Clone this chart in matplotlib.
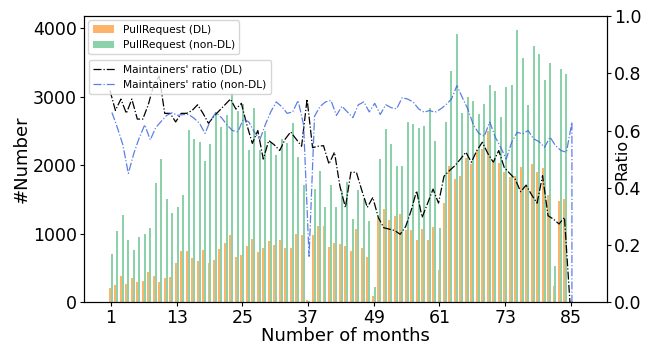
import numpy as np
import matplotlib
matplotlib.use("Agg")
import matplotlib.pyplot as plt

# monthly pull requests and maintainers' ratio
months = np.arange(1, 86)

pr_dl = [210, 254, 381, 266, 351, 298, 307, 439, 383, 293,
         345, 366, 571, 747, 747, 649, 600, 761, 571, 615,
         781, 864, 978, 664, 688, 822, 922, 735, 795, 893,
         839, 908, 793, 793, 1000, 981, 29, 981, 1117, 1117,
         805, 864, 849, 820, 747, 1069, 791, 659, 88, 1230,
         1362, 1205, 1259, 1285, 1056, 1056, 908, 1066, 908, 1098,
         468, 1450, 1993, 1800, 1847, 2110, 2018, 2225, 2240, 2500,
         2030, 2028, 1896, 1822, 1848, 1978, 1703, 2020, 1900, 1962,
         1566, 234, 1479, 1508, 20]

pr_nondl = [708, 1040, 1274, 913, 766, 952, 993, 1083, 1735, 2093,
            1510, 1305, 1393, 1571, 2518, 2390, 2345, 2064, 2315, 2777,
            2560, 2740, 3050, 2790, 2900, 2225, 2830, 2230, 2500, 2340,
            2150, 2380, 2320, 2620, 2128, 1713, 20, 1654, 1918, 1395,
            1713, 1395, 1625, 1762, 1215, 1640, 1500, 1186, 220, 2094,
            2535, 2313, 1993, 1993, 2635, 2608, 2547, 2577, 2837, 2357,
            1083, 2635, 3382, 3924, 2767, 3001, 2945, 2752, 2899, 3177,
            3089, 2708, 3147, 3177, 3982, 3572, 2884, 3748, 3631, 3250,
            3499, 527, 3411, 3338, 15]

ratio_dl = [0.74, 0.67, 0.71, 0.66, 0.71, 0.64, 0.64, 0.69, 0.76, 0.79,
            0.66, 0.66, 0.63, 0.66, 0.66, 0.67, 0.69, 0.66, 0.625, 0.65,
            0.67, 0.69, 0.71, 0.675, 0.695, 0.62, 0.555, 0.60, 0.50, 0.565,
            0.55, 0.53, 0.57, 0.595, 0.57, 0.545, 0.71, 0.54, 0.545, 0.547,
            0.483, 0.524, 0.405, 0.331, 0.454, 0.454, 0.39, 0.331, 0.366, 0.296,
            0.26, 0.255, 0.25, 0.237, 0.264, 0.32, 0.389, 0.296, 0.345, 0.395,
            0.346, 0.44, 0.46, 0.477, 0.50, 0.524, 0.489, 0.53, 0.559, 0.52,
            0.489, 0.53, 0.471, 0.45, 0.43, 0.386, 0.409, 0.375, 0.346, 0.442,
            0.302, 0.29, 0.273, 0.296, 0.0]

ratio_nondl = [0.663, 0.61, 0.55, 0.45, 0.52, 0.575, 0.62, 0.567, 0.61, 0.632,
               0.653, 0.662, 0.653, 0.656, 0.656, 0.643, 0.625, 0.59, 0.635, 0.663,
               0.645, 0.62, 0.60, 0.595, 0.64, 0.63, 0.595, 0.567, 0.62, 0.665,
               0.70, 0.684, 0.66, 0.665, 0.705, 0.62, 0.16, 0.65, 0.684, 0.70,
               0.705, 0.653, 0.685, 0.665, 0.645, 0.69, 0.70, 0.665, 0.695, 0.656,
               0.69, 0.68, 0.676, 0.715, 0.71, 0.70, 0.676, 0.664, 0.67, 0.664,
               0.675, 0.69, 0.71, 0.757, 0.715, 0.675, 0.62, 0.59, 0.58, 0.63,
               0.577, 0.541, 0.50, 0.559, 0.594, 0.588, 0.60, 0.571, 0.561, 0.541,
               0.577, 0.547, 0.53, 0.524, 0.629]

xticks = [1, 13, 25, 37, 49, 61, 73, 85]

c_dl = '#fdb46a'
c_nondl = '#8bd1aa'
w = 0.36

fig = plt.figure(figsize=(6.57, 3.44), dpi=100)
ax = fig.add_axes([0.128, 0.122, 0.796, 0.831])

ax.bar(months - w / 2, pr_dl, width=w, color=c_dl, label='PullRequest (DL)')
ax.bar(months + w / 2, pr_nondl, width=w, color=c_nondl, label='PullRequest (non-DL)')
ax.set_xlim(-3.9, 91.6)
ax.set_ylim(0, 4180)
ax.set_xticks(xticks)
ax.set_yticks([0, 1000, 2000, 3000, 4000])
ax.tick_params(labelsize=12.5, length=3, pad=2)
ax.set_xlabel('Number of months', fontsize=13, labelpad=0)
ax.set_ylabel('#Number', fontsize=13, labelpad=2)
ax.legend(loc='upper left', fontsize=7.7, borderaxespad=0.4)

ax2 = ax.twinx()
ax2.plot(months - w / 2, ratio_dl, color='black', linestyle='-.', linewidth=0.9,
         label="Maintainers' ratio (DL)")
# the non-DL series closes with a drop back to zero after the last month
ax2.plot(np.append(months + w / 2, months[-1] + w / 2), np.append(ratio_nondl, 0.0),
         color='royalblue', linestyle='-.', linewidth=0.9, alpha=0.85,
         label="Maintainers' ratio (non-DL)")
ax2.set_ylim(0, 1.0)
ax2.set_yticks([0.0, 0.2, 0.4, 0.6, 0.8, 1.0])
ax2.tick_params(labelsize=12.5, length=3, pad=2)
# label sits in the gap between the 0.4 and 0.6 tick labels
ax2.set_ylabel('Ratio', fontsize=11.5)
ax2.yaxis.set_label_coords(1.014, 0.5)
ax2.legend(loc='upper left', bbox_to_anchor=(0.0096, 0.846), borderaxespad=0,
           fontsize=7.7)

fig.savefig('out.png', dpi=100)
